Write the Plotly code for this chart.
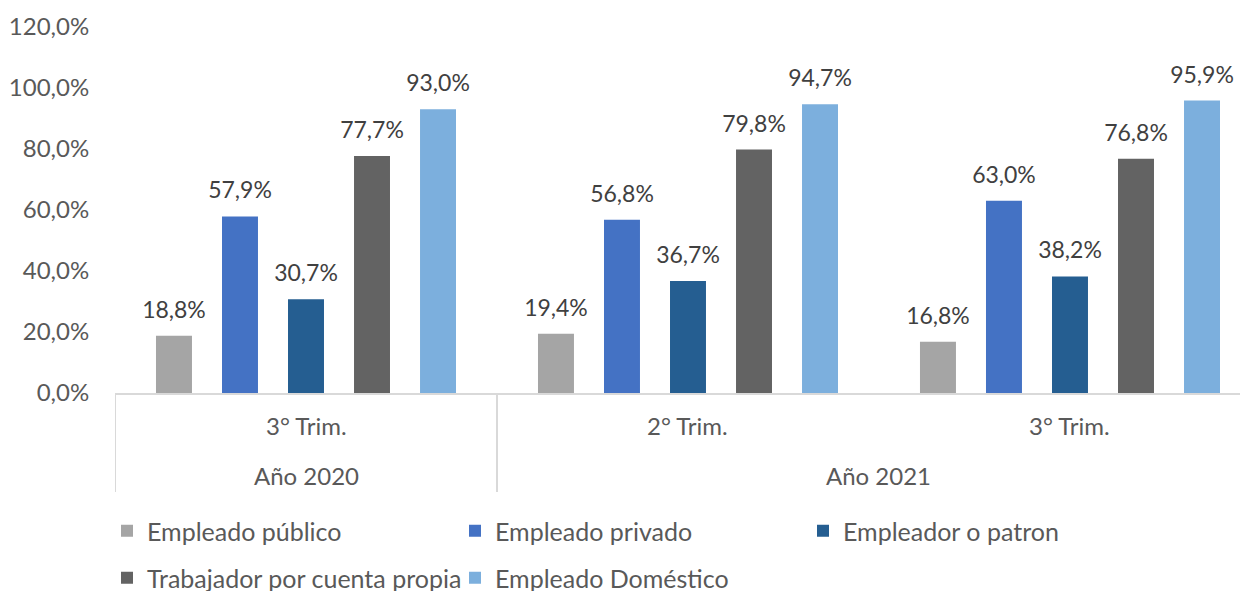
import plotly.graph_objects as go

periodos = ["3° Trim. 2020", "2° Trim. 2021", "3° Trim. 2021"]
trimestres = ["3° Trim.", "2° Trim.", "3° Trim."]
anios = ["Año 2020", "Año 2021"]
anio_pos = [0, 1.5]      # centre of each year group, in category units
divisores = [-0.5, 0.5]  # year boundaries

series = ["Empleado público", "Empleado privado", "Empleador o patron",
          "Trabajador por cuenta propia", "Empleado Doméstico"]
valores = [
    [18.8, 19.4, 16.8],
    [57.9, 56.8, 63.0],
    [30.7, 36.7, 38.2],
    [77.7, 79.8, 76.8],
    [93.0, 94.7, 95.9],
]
colores = ["#A5A5A5", "#4472C4", "#255E91", "#636363", "#7CAFDD"]

FONT = "Lato"
GRIS = "#595959"
W, H = 1240, 583   # page body adds 8px margin

fig = go.Figure()
for i, (nombre, vals, col) in enumerate(zip(series, valores, colores)):
    fig.add_trace(go.Bar(
        x=periodos,
        y=vals,
        name=nombre,
        offsetgroup=str(i),
        marker=dict(color=col, line=dict(width=0)),
        legend="legend" if i < 3 else "legend2",
    ))
# data labels: invisible markers push the text a bit above the bars
for i, vals in enumerate(valores):
    fig.add_trace(go.Scatter(
        x=periodos,
        y=vals,
        offsetgroup=str(i),
        mode="markers+text",
        marker=dict(size=18, opacity=0),
        text=[f"{v:.1f}%".replace(".", ",") for v in vals],
        textposition="top center",
        textfont=dict(family=FONT, size=23, color="#404040"),
        cliponaxis=False,
        showlegend=False,
        hoverinfo="skip",
    ))

# category labels (two levels) and dividers
for p, t in zip(periodos, trimestres):
    fig.add_annotation(x=p, y=-32 / 366, xref="x", yref="paper", text=t,
                       showarrow=False, yanchor="middle",
                       font=dict(family=FONT, size=24, color=GRIS))
for a, pos in zip(anios, anio_pos):
    fig.add_annotation(x=pos, y=-82 / 366, xref="x", yref="paper", text=a,
                       showarrow=False, yanchor="middle",
                       font=dict(family=FONT, size=24, color=GRIS))
for d in divisores:
    fig.add_shape(type="line", xref="x", yref="paper", x0=d, x1=d, y0=0, y1=-99 / 366,
                  line=dict(color="#D9D9D9", width=2))

leg = dict(orientation="h", xref="container", x=99 / W, xanchor="left",
           yref="container", yanchor="middle",
           entrywidth=303, entrywidthmode="pixels",
           font=dict(family=FONT, size=25, color=GRIS))

fig.update_layout(
    width=W, height=H,
    margin=dict(l=107, r=0, t=19, b=198, autoexpand=False),
    plot_bgcolor="white", paper_bgcolor="white",
    barmode="group",
    bargap=0.136,
    bargroupgap=0.455,
    scattermode="group",
    scattergap=0.136,
    separators=",.",
    font=dict(family=FONT, size=22, color=GRIS),
    legend=dict(leg, y=1 - 523 / H),
    legend2=dict(leg, y=1 - 570 / H),
)

fig.update_yaxes(
    range=[0, 120], dtick=20,
    tickformat=".1f", ticksuffix="%",
    showgrid=False, zeroline=False, showline=False,
    tickfont=dict(family=FONT, size=24, color=GRIS),
    ticks="outside", ticklen=20, tickcolor="rgba(0,0,0,0)",
    automargin=False,
)

fig.update_xaxes(
    type="category",
    range=[-0.5, 2.466],
    showline=True, linecolor="#D9D9D9", linewidth=2,
    showticklabels=False, ticks="",
    automargin=False,
)

fig.write_html("out.html")
